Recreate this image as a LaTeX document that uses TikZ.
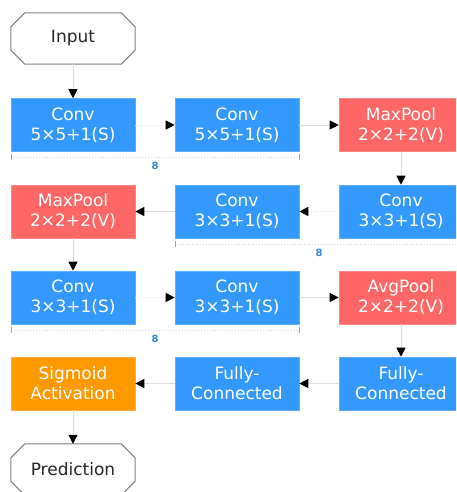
\documentclass[tikz,border=0pt]{standalone}
\usepackage{fontspec}
\setmainfont{DejaVu Sans}
\usetikzlibrary{arrows.meta,calc}
\definecolor{cblue}{HTML}{3399FF}
\definecolor{cred}{HTML}{FF6666}
\definecolor{corange}{HTML}{FF9900}
\definecolor{cline}{HTML}{DDDDDD}
\definecolor{cdim}{HTML}{3388DD}
\definecolor{cdimline}{HTML}{C4D8EC}
\begin{document}
\begin{tikzpicture}[x=1pt,y=-1pt,
  blk/.style={rectangle, minimum width=124pt, minimum height=53pt, inner sep=0pt,
    text=white, align=center, font=\fontsize{17}{20}\selectfont},
  conv/.style={blk, fill=cblue, draw=cblue!80!white, line width=0.6pt},
  pool/.style={blk, fill=cred, draw=cred!80!white, line width=0.6pt},
  act/.style={blk, fill=corange, draw=corange!80!white, line width=0.6pt},
  term/.style={rectangle, minimum width=124pt, minimum height=51pt, inner sep=0pt,
    text=black!85, font=\fontsize{17}{20}\selectfont},
  termline/.style={draw=black!50, line width=1pt},
  conn/.style={draw=cline, line width=1pt, -{Triangle[length=9pt,width=9pt,color=black]}},
  dconn/.style={conn, dotted},
  dimline/.style={draw=cdimline, line width=0.8pt, dotted},
  dimtick/.style={draw=cdim!70!white, line width=1pt},
  dimlab/.style={text=cdim, font=\fontsize{10}{11}\selectfont\bfseries, inner sep=0pt}
]
\clip (0,0) rectangle (456,492);
\fill[white] (0,0) rectangle (456,492);

\newcommand{\octo}[1]{%
  \draw[termline] ($(#1.north west)+(14,0)$) -- ($(#1.north east)+(-14,0)$)
    -- ($(#1.north east)+(0,14)$) -- ($(#1.south east)+(0,-14)$)
    -- ($(#1.south east)+(-14,0)$) -- ($(#1.south west)+(14,0)$)
    -- ($(#1.south west)+(0,-14)$) -- ($(#1.north west)+(0,14)$) -- cycle;}

\node[term] (in) at (73,38.5) {Input};
\octo{in}

\node[conv] (c1) at (73,125) {Conv\\5×5+1(S)};
\node[conv] (c2) at (237,125) {Conv\\5×5+1(S)};
\node[pool] (p1) at (401,125) {MaxPool\\2×2+2(V)};

\node[pool] (p2) at (73,211.5) {MaxPool\\2×2+2(V)};
\node[conv] (c4) at (237,211.5) {Conv\\3×3+1(S)};
\node[conv] (c3) at (401,211.5) {Conv\\3×3+1(S)};

\node[conv] (c5) at (73,297.5) {Conv\\3×3+1(S)};
\node[conv] (c6) at (237,297.5) {Conv\\3×3+1(S)};
\node[pool] (ap) at (401,297.5) {AvgPool\\2×2+2(V)};

\node[act] (sg) at (73,383.5) {Sigmoid\\Activation};
\node[conv] (f2) at (237,383.5) {Fully-\\Connected};
\node[conv] (f1) at (401,383.5) {Fully-\\Connected};

\node[term] (out) at (73,469.5) {Prediction};
\octo{out}

% connectors
\draw[conn] (in) -- (c1);
\draw[dconn] (c1) -- (c2);
\draw[conn] (c2) -- (p1);
\draw[conn] (p1) -- (c3);
\draw[dconn] (c3) -- (c4);
\draw[conn] (c4) -- (p2);
\draw[conn] (p2) -- (c5);
\draw[dconn] (c5) -- (c6);
\draw[conn] (c6) -- (ap);
\draw[conn] (ap) -- (f1);
\draw[conn] (f1) -- (f2);
\draw[conn] (f2) -- (sg);
\draw[conn] (sg) -- (out);

% dimension lines
\coordinate (d1a) at (11,157);
\coordinate (d1b) at (299,157);
\draw[dimline] (d1a) -- (d1b);
\draw[dimtick] (d1a) ++(0,-3) -- ++(0,6);
\draw[dimtick] (d1b) ++(0,-3) -- ++(0,6);
\node[dimlab] (l1) at (155,166) {8};

\coordinate (d2a) at (175,244);
\coordinate (d2b) at (456,244);
\draw[dimline] (d2a) -- (d2b);
\draw[dimtick] (d2a) ++(0,-3) -- ++(0,6);
\node[dimlab] (l2) at (319,253) {8};

\coordinate (d3a) at (11,330);
\coordinate (d3b) at (299,330);
\draw[dimline] (d3a) -- (d3b);
\draw[dimtick] (d3a) ++(0,-3) -- ++(0,6);
\draw[dimtick] (d3b) ++(0,-3) -- ++(0,6);
\node[dimlab] (l3) at (155,339) {8};
\end{tikzpicture}
\end{document}
